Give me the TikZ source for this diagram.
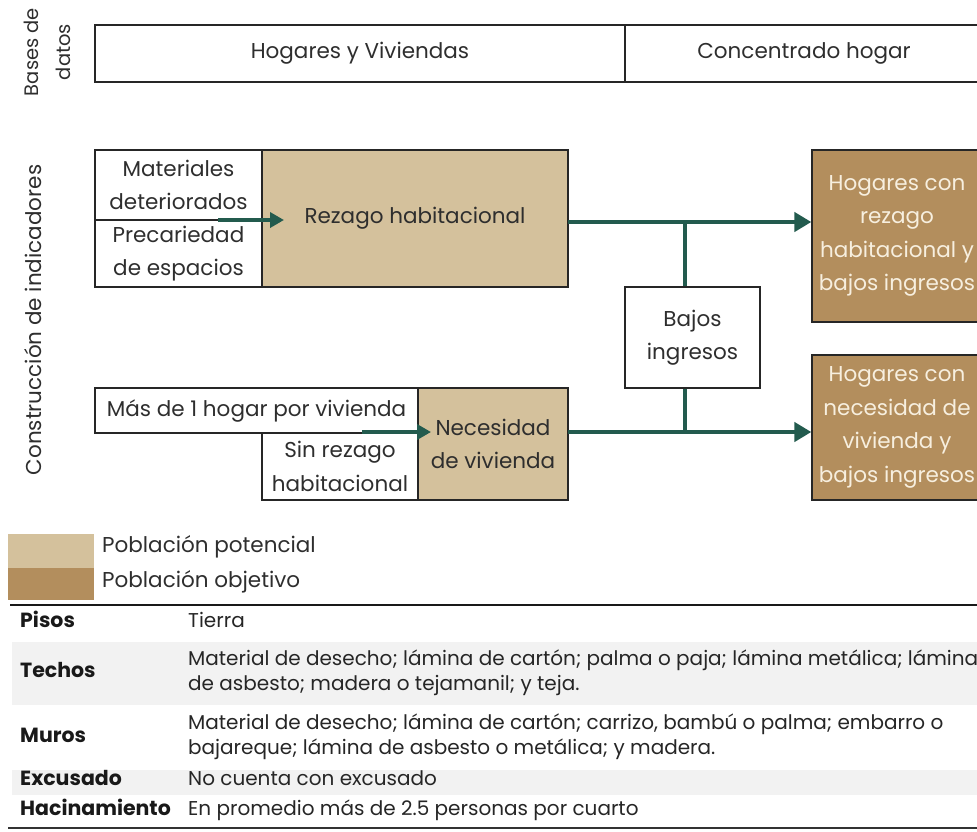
\documentclass[tikz,border=0pt]{standalone}
\usepackage{fontspec}
\setmainfont{Poppins}
\usetikzlibrary{arrows.meta}
\definecolor{gtan}{HTML}{D4C19C}
\definecolor{gbrown}{HTML}{B38E5D}
\definecolor{ggreen}{HTML}{235B4E}
\definecolor{txt}{HTML}{2E2E2E}
\definecolor{rowgray}{HTML}{F2F2F2}
\definecolor{cream}{HTML}{F7EFDF}
\begin{document}
\begin{tikzpicture}[x=1pt,y=-1pt,
  bx/.style={draw=black!85, line width=1.3pt, inner sep=0pt, align=center, text=txt, font=\fontsize{21.5}{33.5}\selectfont},
  potbox/.style={bx, fill=gtan},
  objbox/.style={bx, fill=gbrown, text=cream},
  flow/.style={draw=ggreen, line width=4.5pt, -{Triangle[length=17pt,width=19pt]}},
  smallflow/.style={draw=ggreen, line width=3.5pt, -{Triangle[length=14pt,width=15pt]}},
  link/.style={draw=ggreen, line width=4.5pt},
  side/.style={rotate=90, align=center, text=txt, font=\fontsize{21.5}{32}\selectfont},
  legtxt/.style={anchor=mid west, text=txt, inner sep=0pt, font=\fontsize{21.5}{24}\selectfont},
  lab/.style={anchor=mid west, inner sep=0pt, text=black!90, font=\fontsize{20.5}{24}\selectfont\bfseries},
  desc/.style={anchor=mid west, inner sep=0pt, text=black!85, font=\fontsize{20}{24}\selectfont},
]
\useasboundingbox (0,0) rectangle (977,831);

% side labels
\node[side, font=\fontsize{19.5}{32}\selectfont] (sbd) at (47,52) {Bases de\\datos};
\node[side] (sci) at (33,320) {Construcción de indicadores};

% data bases
\node[bx, minimum width=530pt, minimum height=57pt] (hv) at (360,53.5) {Hogares y Viviendas};
\node[bx, minimum width=358pt, minimum height=57pt] (ch) at (804,53.5) {Concentrado hogar};

% upper group
\node[bx, minimum width=167pt, minimum height=70pt] (mat) at (178.5,185) {Materiales\\deteriorados};
\node[bx, minimum width=167pt, minimum height=67pt] (pre) at (178.5,253.5) {Precariedad\\de espacios};
\node[potbox, minimum width=306pt, minimum height=137pt] (rez) at (415,218.5) {Rezago habitacional};
\node[objbox, minimum width=170pt, minimum height=172pt] (hog1) at (897,236) {Hogares con\\rezago\\habitacional y\\bajos ingresos};

% middle
\node[bx, minimum width=135pt, minimum height=101pt] (baj) at (692.5,337.5) {Bajos\\ingresos};

% lower group
\node[bx, minimum width=323pt, minimum height=45pt] (mas) at (256.5,410.5) {Más de 1 hogar por vivienda};
\node[bx, minimum width=156pt, minimum height=67pt] (sin) at (340,466.5) {Sin rezago\\habitacional};
\node[potbox, minimum width=150pt, minimum height=112pt] (nec) at (493,444) {Necesidad\\de vivienda};
\node[objbox, minimum width=170pt, minimum height=145pt] (hog2) at (897,427.5) {Hogares con\\necesidad de\\vivienda y\\bajos ingresos};

% connectors
\coordinate (s1) at (218,220);
\coordinate (e1) at (284,220);
\draw[smallflow] (s1) -- (e1);
\coordinate (s2) at (362,432);
\coordinate (e2) at (431,432);
\draw[smallflow] (s2) -- (e2);

\coordinate (l1) at (568,222);
\coordinate (l2) at (568,432);
\draw[flow] (l1) -- (l1 -| hog1.west);
\draw[flow] (l2) -- (l2 -| hog2.west);
\coordinate (j1) at (685,222);
\coordinate (j2) at (685,432);
\draw[link] (j1) -- (j1 |- baj.north);
\draw[link] (j1 |- baj.south) -- (j2);

% legend
\node[fill=gtan, minimum width=86pt, minimum height=34pt, inner sep=0pt] (sw1) at (51,551) {};
\node[fill=gbrown, minimum width=86pt, minimum height=32pt, inner sep=0pt] (sw2) at (51,584) {};
\node[legtxt] (lg1) at (102,550) {Población potencial};
\node[legtxt] (lg2) at (102,585) {Población objetivo};

% table
\fill[rowgray] (12,642) rectangle (990,705);
\fill[rowgray] (12,770) rectangle (990,795);
\draw[line width=2.5pt, black!90] (10,605) -- (990,605);
\draw[line width=1.6pt, black!80] (8,828) -- (990,828);

\node[lab] (t1) at (20,625) {Pisos};
\node[desc] (d1) at (188,625) {Tierra};
\node[lab] (t2) at (20,675) {Techos};
\node[desc] (d2a) at (188,663) {Material de desecho; lámina de cartón; palma o paja; lámina metálica; lámina};
\node[desc] (d2b) at (188,688) {de asbesto; madera o tejamanil; y teja.};
\node[lab] (t3) at (20,740) {Muros};
\node[desc] (d3a) at (188,727) {Material de desecho; lámina de cartón; carrizo, bambú o palma; embarro o};
\node[desc] (d3b) at (188,752) {bajareque; lámina de asbesto o metálica; y madera.};
\node[lab] (t4) at (20,783) {Excusado};
\node[desc] (d4) at (188,783) {No cuenta con excusado};
\node[lab] (t5) at (20,813) {Hacinamiento};
\node[desc] (d5) at (188,813) {En promedio más de 2.5 personas por cuarto};
\end{tikzpicture}
\end{document}
